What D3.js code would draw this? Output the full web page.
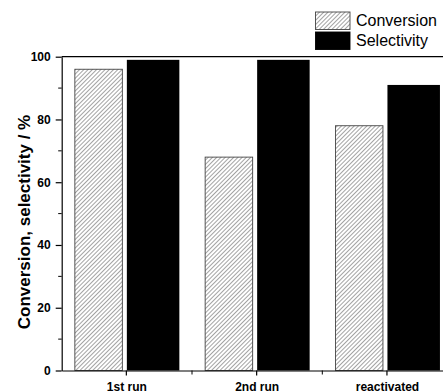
<!DOCTYPE html>
<html>
<head>
<meta charset="utf-8">
<script src="https://cdn.jsdelivr.net/npm/d3@7"></script>
<style>
  body { margin: 0; background: #fff; }
  svg { display: block; font-family: Arial, "Liberation Sans", sans-serif; }
</style>
</head>
<body>
<div id="chart"></div>
<script>
// chart data
const categories = ["1st run", "2nd run", "reactivated"];
const conversion = [96, 68, 78];
const selectivity = [99, 99, 91];
const seriesNames = ["Conversion", "Selectivity"];
const yTicks = [0, 20, 40, 60, 80, 100];

const width = 443, height = 391;
const margin = {top: 56.7, left: 61.7, bottom: 20.5};

const svg = d3.select("#chart").append("svg")
    .attr("width", width)
    .attr("height", height);

// hatch pattern for conversion bars
const defs = svg.append("defs");
const pat = defs.append("pattern")
    .attr("id", "hatch")
    .attr("patternUnits", "userSpaceOnUse")
    .attr("width", 3)
    .attr("height", 3)
    .attr("patternTransform", "rotate(45)");
pat.append("rect").attr("width", 3).attr("height", 3).attr("fill", "#fff");
pat.append("line")
    .attr("x1", 0).attr("y1", 0).attr("x2", 0).attr("y2", 3)
    .attr("stroke", "#333").attr("stroke-width", 0.9);

const y = d3.scaleLinear()
    .domain([0, 100])
    .range([height - margin.bottom, margin.top]);

const x = d3.scaleBand()
    .domain(categories)
    .range([margin.left, margin.left + 3 * 130.3])
    .padding(0);

const center = d => x(d) + x.bandwidth() / 2;

// bars
const data = categories.map((c, i) => ({cat: c, conv: conversion[i], sel: selectivity[i]}));

svg.selectAll(".conv-bar")
    .data(data)
    .enter().append("rect")
    .attr("class", "conv-bar")
    .attr("x", d => center(d.cat) - 52)
    .attr("width", 47.5)
    .attr("y", d => y(d.conv))
    .attr("height", d => y(0) - y(d.conv))
    .attr("fill", "url(#hatch)")
    .attr("stroke", "#444")
    .attr("stroke-width", 0.9);

svg.selectAll(".sel-bar")
    .data(data)
    .enter().append("rect")
    .attr("class", "sel-bar")
    .attr("x", d => center(d.cat))
    .attr("width", 52.5)
    .attr("y", d => y(d.sel))
    .attr("height", d => y(0) - y(d.sel))
    .attr("fill", "#000");

// y axis
const yAxis = svg.append("g")
    .attr("transform", `translate(${margin.left},0)`)
    .call(d3.axisLeft(y).tickValues(yTicks).tickSize(6).tickPadding(5).tickSizeOuter(0));
yAxis.select(".domain").attr("stroke", "#000").attr("stroke-width", 1.2);
yAxis.selectAll(".tick line").attr("stroke-width", 1.2);
yAxis.selectAll(".tick text")
    .style("font-size", "12px")
    .style("font-weight", "bold")
    .attr("fill", "#000");

// minor y ticks
svg.append("g")
    .selectAll("line")
    .data(d3.range(10, 100, 20))
    .enter().append("line")
    .attr("x1", margin.left - 3.5)
    .attr("x2", margin.left)
    .attr("y1", d => y(d))
    .attr("y2", d => y(d))
    .attr("stroke", "#000")
    .attr("stroke-width", 1);

// x axis
const xAxis = svg.append("g")
    .attr("transform", `translate(0,${y(0)})`)
    .call(d3.axisBottom(x).tickSize(5).tickPadding(7).tickSizeOuter(0));
xAxis.selectAll(".tick line").attr("transform", `translate(${-0.5},0)`).attr("stroke-width", 1.2);
xAxis.select(".domain").attr("stroke-width", 1.2);
xAxis.selectAll(".tick text")
    .style("font-size", "12px")
    .style("font-weight", "bold")
    .attr("fill", "#000");

// minor x ticks between categories
svg.append("g")
    .selectAll("line")
    .data(categories.slice(1))
    .enter().append("line")
    .attr("x1", d => x(d))
    .attr("x2", d => x(d))
    .attr("y1", y(0))
    .attr("y2", y(0) + 4)
    .attr("stroke", "#000")
    .attr("stroke-width", 1);

// top frame line
svg.append("line")
    .attr("x1", margin.left)
    .attr("x2", width)
    .attr("y1", y(100))
    .attr("y2", y(100))
    .attr("stroke", "#000")
    .attr("stroke-width", 1.2);

// y label
svg.append("text")
    .attr("transform", `translate(29.5, 222) rotate(-90)`)
    .attr("text-anchor", "middle")
    .style("font-size", "17px")
    .style("font-weight", "bold")
    .text("Conversion, selectivity / %");

// legend
const legend = svg.append("g").attr("class", "legend");
const legendFills = ["url(#hatch)", "#000"];
seriesNames.forEach((name, i) => {
    legend.append("rect")
        .attr("x", 315.5)
        .attr("y", 12 + i * 20)
        .attr("width", 34.5)
        .attr("height", 17.5)
        .attr("fill", legendFills[i])
        .attr("stroke", i === 0 ? "#444" : "#000")
        .attr("stroke-width", 0.9);
    legend.append("text")
        .attr("x", 356)
        .attr("y", 26 + i * 19.5)
        .style("font-size", "16px")
        .text(name);
});
</script>
</body>
</html>
